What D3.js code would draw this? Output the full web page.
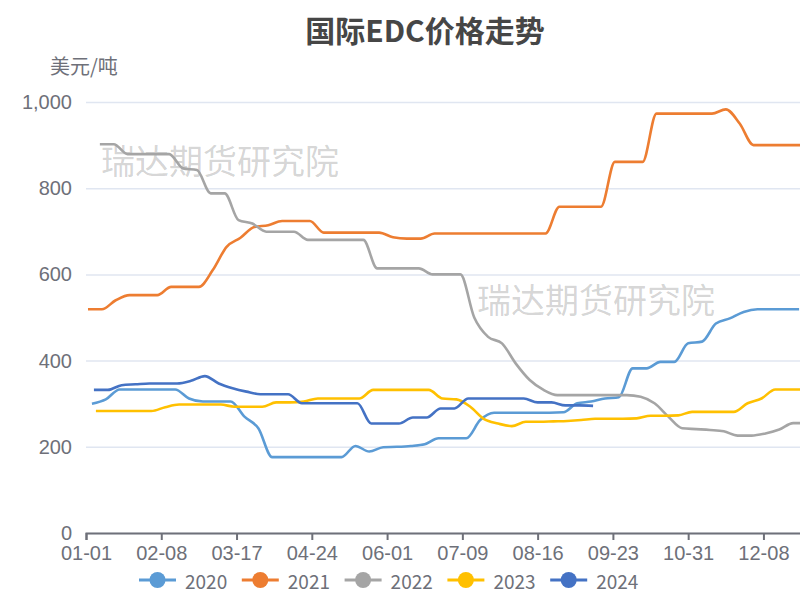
<!DOCTYPE html>
<html>
<head>
<meta charset="utf-8">
<script src="https://cdn.jsdelivr.net/npm/d3@7"></script>
<style>
  body { margin: 0; background: #fff; }
  svg { display: block; font-family: "Noto Sans CJK SC", "Noto Sans", sans-serif; }
</style>
</head>
<body>
<script>
// Dimensions
const width = 800;
const height = 592;
const margin = { top: 102, right: -9, bottom: 59, left: 86 };

// Données
const years = ['2020', '2021', '2022', '2023', '2024'];
const colors = ['#5b9bd5', '#ed7d31', '#a5a5a5', '#ffc000', '#4472c4'];
const startDates = ['01-04', '01-02', '01-08', '01-06', '01-05']; // premier relevé hebdo
const xTickLabels = ['01-01', '02-08', '03-17', '04-24', '06-01', '07-09', '08-16', '09-23', '10-31', '12-08'];
const yTicks = [0, 200, 400, 600, 800, 1000];

const v2020 = [300, 310, 333, 333, 333, 333, 333, 312, 305, 305, 305, 270, 243, 176, 176, 176, 176, 176, 176,
  202, 189, 199, 200, 202, 206, 220, 220, 220, 262, 279, 279, 279, 279, 279, 280, 301, 305, 312, 315,
  382, 382, 397, 397, 440, 444, 486, 498, 513, 519, 519, 519, 519];
const v2021 = [519, 519, 540, 552, 552, 552, 571, 571, 571, 610, 664, 685, 710, 714, 724, 724, 724, 697, 697, 697,
  697, 697, 686, 683, 683, 695, 695, 695, 695, 695, 695, 695, 695, 695, 757, 757, 757, 757, 861, 861, 861,
  973, 973, 973, 973, 973, 983, 950, 900, 900, 900, 900, 900];
const v2022 = [902, 902, 879, 879, 879, 879, 846, 842, 788, 788, 726, 718, 699, 699, 699, 680, 680, 680, 680, 680,
  614, 614, 614, 614, 600, 600, 600, 500, 455, 440, 393, 355, 332, 320, 320, 320, 320, 320, 320, 316,
  301, 270, 243, 241, 239, 236, 226, 226, 231, 240, 255, 255];
const v2023 = [283, 283, 283, 283, 283, 292, 298, 298, 298, 298, 293, 293, 293, 303, 303, 305, 312, 312, 312, 312,
  332, 332, 332, 332, 332, 312, 310, 293, 264, 254, 248, 258, 258, 259, 260, 262, 265, 265, 265, 266,
  272, 272, 273, 281, 281, 281, 281, 301, 312, 333, 333, 333];
const v2024 = [332, 332, 343, 345, 347, 347, 347, 353, 364, 347, 336, 328, 322, 322, 322, 301, 301, 301, 301, 301,
  254, 254, 254, 268, 268, 289, 289, 312, 312, 312, 312, 312, 303, 303, 296, 296, 295];
const seriesValues = [v2020, v2021, v2022, v2023, v2024];

const watermark = '瑞达期货研究院';

const parseDay = d3.timeParse('%Y-%m-%d');
const toDate = md => parseDay('2020-' + md);

const series = years.map((name, i) => {
  const start = toDate(startDates[i]);
  return {
    name,
    color: colors[i],
    points: seriesValues[i].map((v, k) => ({ date: d3.timeDay.offset(start, 7 * k), value: v }))
  };
});

// SVG
const svg = d3.select('body')
  .append('svg')
  .attr('width', width)
  .attr('height', height);

// Échelles
const x = d3.scaleTime()
  .domain([toDate('01-01'), toDate('12-31')])
  .range([margin.left, width - margin.right]);

const y = d3.scaleLinear()
  .domain([0, 1000])
  .range([height - margin.bottom, margin.top]);

// Titre
svg.append('text')
  .attr('x', 425)
  .attr('y', 29)
  .attr('text-anchor', 'middle')
  .attr('dominant-baseline', 'central')
  .style('font-size', '30px')
  .style('font-weight', 'bold')
  .style('fill', '#464646')
  .text('国际EDC价格走势');

// Unité
svg.append('text')
  .attr('x', 50)
  .attr('y', 65)
  .attr('dominant-baseline', 'central')
  .style('font-size', '20px')
  .style('fill', '#6e7079')
  .text('美元/吨');

// Axe vertical + grille
svg.append('g')
  .attr('transform', `translate(${margin.left}, 0)`)
  .call(d3.axisLeft(y).tickValues(yTicks).tickSize(-(width - margin.right - margin.left)).tickPadding(14).tickFormat(d3.format(',')))
  .call(g => g.select('.domain').remove())
  .call(g => g.selectAll('.tick line').attr('stroke', '#e0e6f1').attr('stroke-width', 1.5))
  .call(g => g.selectAll('.tick text').attr('fill', '#6e7079').style('font-size', '20px').style('font-family', 'inherit'));

// Filigranes
svg.append('g')
  .selectAll('text')
  .data([[101, 159], [477, 298]])
  .enter()
  .append('text')
  .attr('x', d => d[0])
  .attr('y', d => d[1])
  .attr('dominant-baseline', 'central')
  .style('font-size', '34px')
  .style('fill', '#000')
  .style('fill-opacity', 0.18)
  .text(watermark);

// Courbes
const line = d3.line()
  .x(d => x(d.date))
  .y(d => y(d.value))
  .curve(d3.curveMonotoneX);

svg.append('g')
  .selectAll('path')
  .data(series)
  .enter()
  .append('path')
  .attr('d', d => line(d.points))
  .attr('fill', 'none')
  .attr('stroke', d => d.color)
  .attr('stroke-width', 2.6)
  .attr('stroke-linejoin', 'round');

// Axe horizontal
svg.append('g')
  .attr('transform', `translate(0, ${height - margin.bottom})`)
  .call(d3.axisBottom(x).tickValues(xTickLabels.map(toDate)).tickFormat(d3.timeFormat('%m-%d')).tickSize(7).tickPadding(6))
  .call(g => g.select('.domain').attr('stroke', '#6e7079').attr('stroke-width', 2))
  .call(g => g.selectAll('.tick line').attr('stroke', '#6e7079').attr('stroke-width', 2))
  .call(g => g.selectAll('.tick text').attr('fill', '#6e7079').style('font-size', '20px').style('font-family', 'inherit'));

// Légende
const legend = svg.append('g')
  .selectAll('g')
  .data(series)
  .enter()
  .append('g')
  .attr('transform', (d, i) => `translate(${139 + i * 102.8}, 580)`);

legend.append('line')
  .attr('x1', 0)
  .attr('x2', 37)
  .attr('stroke', d => d.color)
  .attr('stroke-width', 3);

legend.append('circle')
  .attr('cx', 18.5)
  .attr('r', 8)
  .attr('fill', d => d.color);

legend.append('text')
  .attr('x', 46)
  .attr('dominant-baseline', 'central')
  .style('font-size', '19px')
  .style('fill', '#6e7079')
  .text(d => d.name);
</script>
</body>
</html>
